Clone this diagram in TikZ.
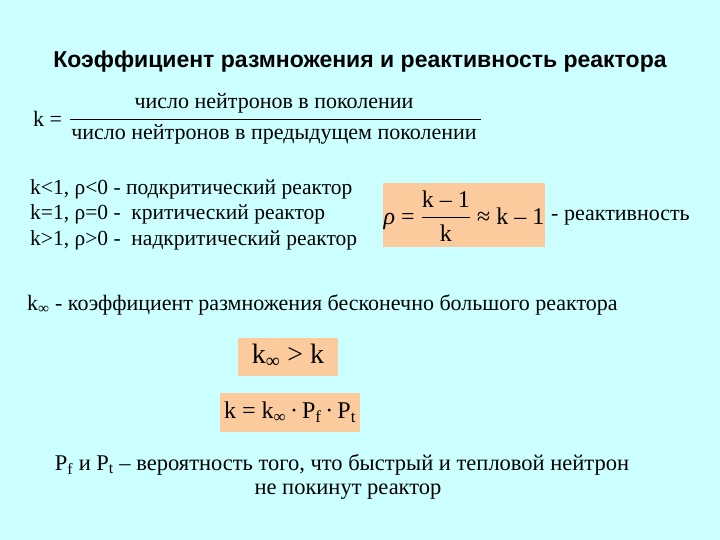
\documentclass[tikz,border=0pt]{standalone}
\usepackage{amsmath}
\usepackage{fontspec}
\setmainfont{Liberation Serif}
\newfontfamily\titlefont{Liberation Sans}
\begin{document}
\begin{tikzpicture}[x=1pt,y=-1pt,
  txt/.style={anchor=west,inner sep=0pt,font=\fontsize{21.5}{24}\selectfont},
  pbox/.style={fill=peach,draw=none,inner sep=0pt}]
\definecolor{bg}{HTML}{CCFFFF}
\definecolor{peach}{HTML}{FBCB9E}
\fill[bg] (0,0) rectangle (720,540);
\useasboundingbox (0,0) rectangle (720,540);
\node[inner sep=0pt,font=\titlefont\bfseries\fontsize{23}{26}\selectfont] (title) at (360,62) {Коэффициент размножения и реактивность реактора};
\node[txt,font=\fontsize{22}{24}\selectfont] (k) at (33,119) {k =};
\node[inner sep=0pt,font=\fontsize{22}{24}\selectfont] (num) at (274,103) {число нейтронов в поколении};
\node[inner sep=0pt,font=\fontsize{22}{24}\selectfont] (den) at (274,134) {число нейтронов в предыдущем поколении};
\coordinate (l1) at (70,119); \coordinate (l2) at (481,119);
\draw[line width=0.6pt] (l1) -- (l2);
\node[txt] (a) at (30,189) {k<1, ρ<0 - подкритический реактор};
\node[txt] (b) at (30,214) {k=1, ρ=0 -\ \ критический реактор};
\node[txt] (c) at (30,240) {k>1, ρ>0 -\ \ надкритический реактор};
\path[pbox] (383,183) rectangle (545,247);
\node[inner sep=0pt,font=\fontsize{24}{26}\selectfont] (rho) at (464,216) {\textit{ρ} = $\dfrac{\text{k – 1}}{\text{k}}$ ≈ k – 1};
\node[txt,font=\fontsize{22}{24}\selectfont] (r) at (551,218) {- реактивность};
\node[txt,font=\fontsize{22}{24}\selectfont] (kinf) at (27,305) {k\textsubscript{∞} - коэффициент размножения бесконечно большого реактора};
\path[pbox] (238,338) rectangle (338,376);
\node[inner sep=0pt,font=\fontsize{28}{30}\selectfont] (f1) at (288,356) {k\textsubscript{∞} > k};
\path[pbox] (220,393) rectangle (360,432);
\node[inner sep=0pt,font=\fontsize{24}{26}\selectfont] (f2) at (290,412) {k = k\textsubscript{∞}\,·\,P\textsubscript{f}\,·\,P\textsubscript{t}};
\node[inner sep=0pt,font=\fontsize{22.5}{24}\selectfont] (p1) at (342,465) {P\textsubscript{f} и P\textsubscript{t} – вероятность того, что быстрый и тепловой нейтрон};
\node[inner sep=0pt,font=\fontsize{22.5}{24}\selectfont] (p2) at (348,492) {не покинут реактор};
\end{tikzpicture}
\end{document}
